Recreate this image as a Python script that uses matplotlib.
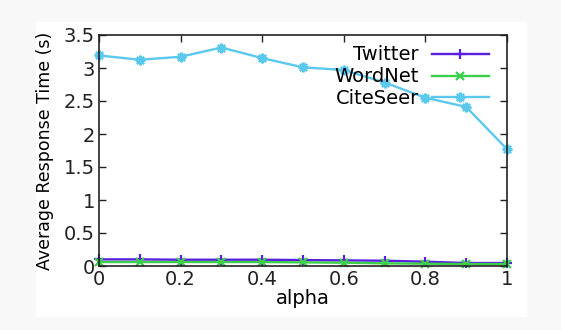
import matplotlib
matplotlib.use("Agg")
import matplotlib.pyplot as plt
from matplotlib.ticker import FuncFormatter, MultipleLocator
from matplotlib.patches import Rectangle

alpha = [0.0, 0.1, 0.2, 0.3, 0.4, 0.5, 0.6, 0.7, 0.8, 0.9, 1.0]
twitter = [0.10, 0.10, 0.095, 0.095, 0.095, 0.09, 0.085, 0.08, 0.065, 0.045, 0.045]
wordnet = [0.06, 0.06, 0.06, 0.06, 0.06, 0.055, 0.05, 0.04, 0.035, 0.03, 0.03]
citeseer = [3.19, 3.125, 3.17, 3.31, 3.15, 3.01, 2.97, 2.78, 2.55, 2.41, 1.77]

series_names = ["Twitter", "WordNet", "CiteSeer"]
series_colors = ["#5a1ee0", "#3ccf4a", "#5bc8ee"]
series_markers = ["+", "x", (8, 2, 0)]
series_msizes = [7, 6, 7]

plt.rcParams['font.family'] = ['DejaVu Sans']
fig = plt.figure(figsize=(5.61, 3.30), dpi=100, facecolor="#f8f8f8")
fig.patches.append(Rectangle((36/561, 13/330), (527-36)/561, (317-22)/330,
                             transform=fig.transFigure, facecolor="white",
                             edgecolor="none", zorder=-10))
ax = fig.add_axes([99/561, 64/330, 408/561, 231/330])
ax.set_facecolor("white")
ax.set_zorder(1)

for name, vals, c, m, ms in zip(series_names, [twitter, wordnet, citeseer],
                                series_colors, series_markers, series_msizes):
    ax.plot(alpha, vals, color=c, marker=m, markersize=ms, markeredgewidth=1.6,
            linewidth=1.7, label=name, clip_on=False)

ax.set_xlim(0, 1)
ax.set_ylim(0, 3.5)
ax.xaxis.set_major_locator(MultipleLocator(0.2))
ax.yaxis.set_major_locator(MultipleLocator(0.5))
fmt = FuncFormatter(lambda v, p: "%g" % round(v, 2))
ax.xaxis.set_major_formatter(fmt)
ax.yaxis.set_major_formatter(fmt)
ax.tick_params(direction="in", length=5, width=1, top=True, right=True,
               labelsize=14, pad=3, colors="#222222")
for s in ax.spines.values():
    s.set_linewidth(1.2)
    s.set_color("#222222")
ax.set_xlabel("alpha", fontsize=14, labelpad=0)
ax.set_ylabel("Average Response Time (s)", fontsize=12.5, labelpad=7)

leg = ax.legend(loc="upper right", bbox_to_anchor=(0.955, 0.955), markerfirst=False,
                frameon=False, fontsize=14, handlelength=2.9, handletextpad=0.7,
                labelspacing=0.15, borderpad=0, borderaxespad=0)

fig.savefig("out.png", dpi=100, facecolor=fig.get_facecolor())
